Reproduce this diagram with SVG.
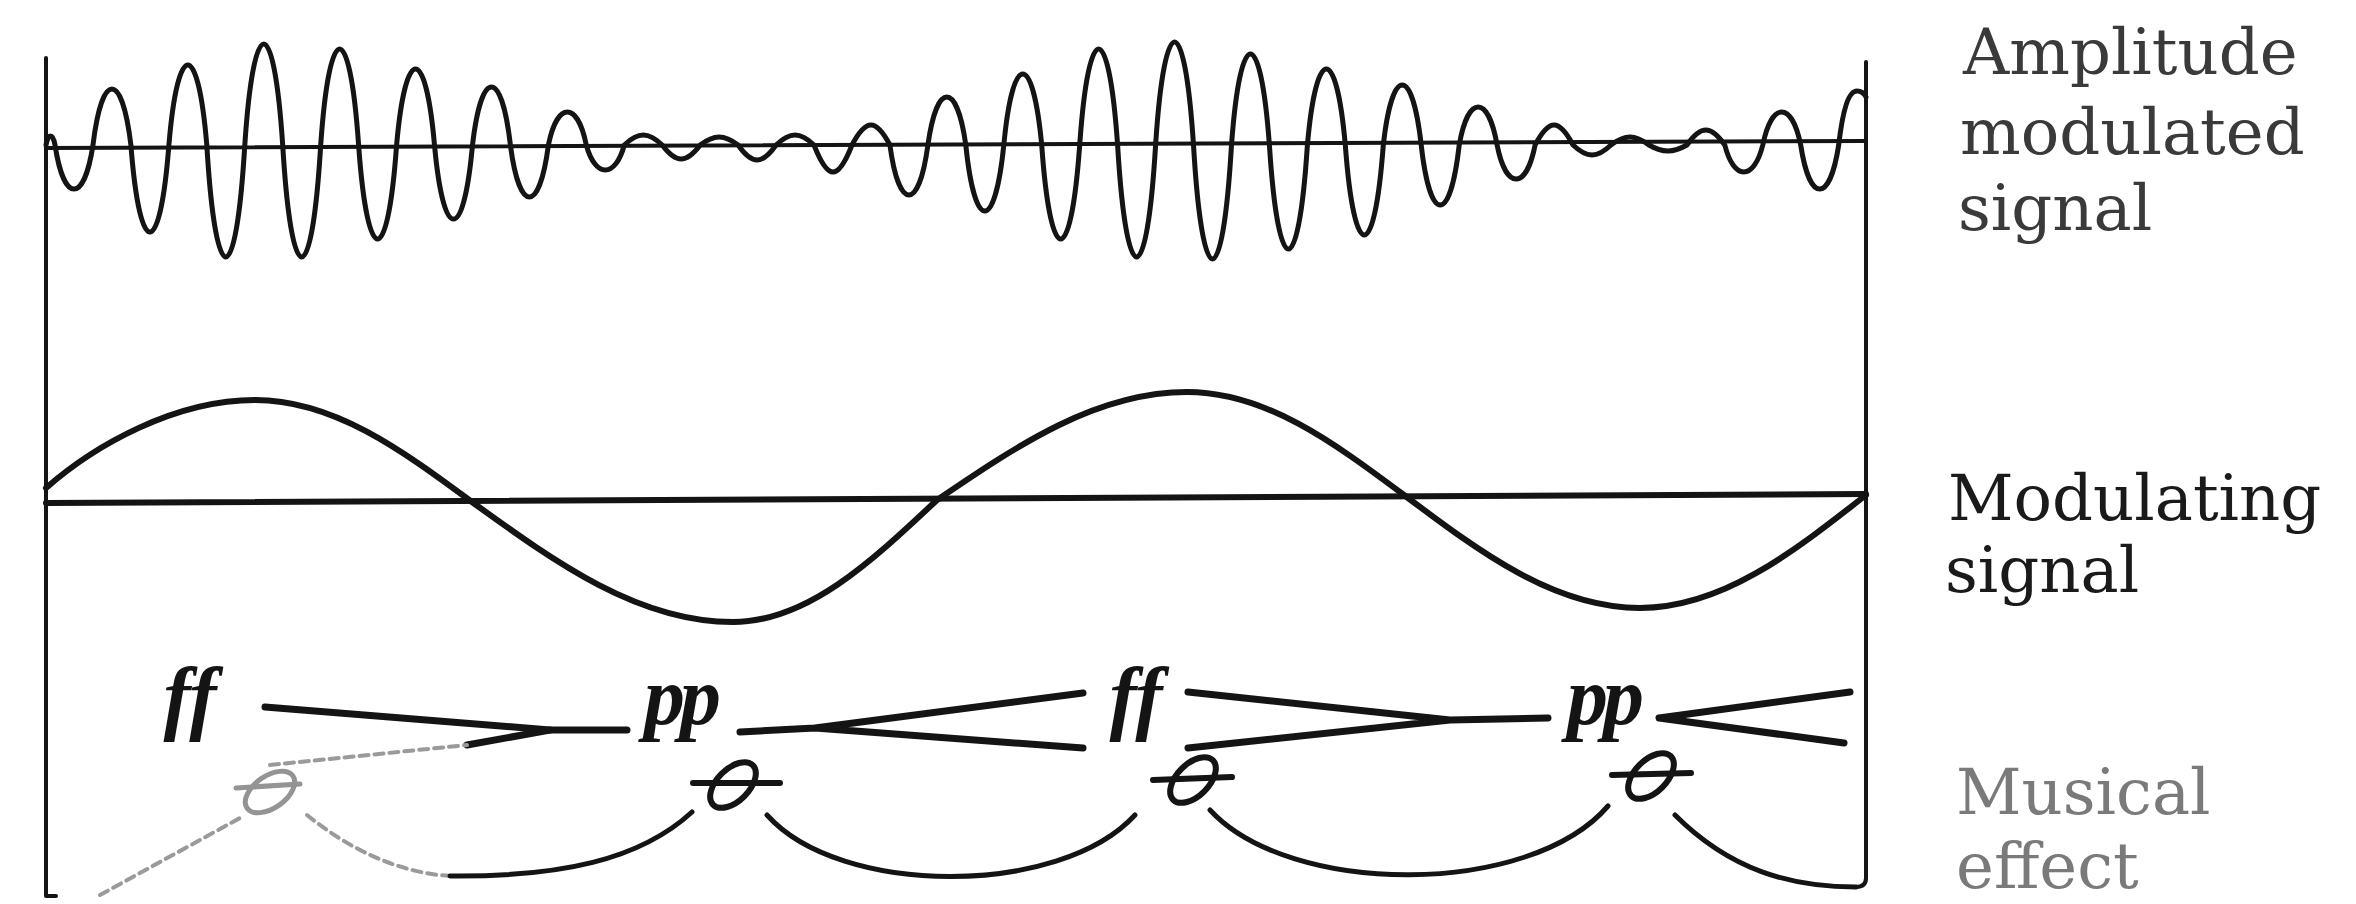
<svg xmlns="http://www.w3.org/2000/svg" width="2356" height="904" viewBox="0 0 2356 904">
<style>
.ink{fill:none;stroke:#141414;stroke-linecap:round;stroke-linejoin:round}
.frame{stroke-width:4}
.carrier{stroke-width:5}
.mod{stroke-width:6}
.hair{stroke-width:7}
.tie{stroke-width:5}
.faint{fill:none;stroke:#9a9a9a;stroke-width:4;stroke-dasharray:9 6;stroke-linecap:round}
.lbl{font-family:"DejaVu Serif","Liberation Serif",serif;font-size:64px}
.dyn{font-family:"Liberation Serif","DejaVu Serif",serif;font-style:italic;font-weight:bold;font-size:82px;fill:#141414;text-anchor:middle}
</style>
<rect width="2356" height="904" fill="#ffffff"/>

<g id="frame">
<path class="ink frame" d="M46,58 L46,896 L56,896"/>
<path class="ink frame" d="M1866,62 L1866,878 Q1866,887 1856,887"/>
</g>

<g id="am-signal">
<path class="ink frame" d="M46,148 L1866,141"/>
<path class="ink carrier" d="M46,145 C48,133 53,133 55,145 C64,203.7 84,203.7 93,145 C102,70.3 121.9,70.3 130.9,145 C139.9,261 159.9,261 168.9,145 C177.9,38.3 197.8,38.3 206.8,145 C215.8,294.3 235.8,294.3 244.8,145 C253.8,10.3 273.7,10.3 282.7,145 C291.7,294.3 311.7,294.3 320.7,145 C329.7,17 349.6,17 358.6,145 C367.6,270.3 387.6,270.3 396.6,145 C405.6,43.7 425.5,43.7 434.5,145 C443.5,243.7 463.5,243.7 472.5,145 C481.5,67.7 501.4,67.7 510.4,145 C519.4,214.3 539.4,214.3 548.4,145 C557.4,101 577.3,101 586.3,145 C595.3,178.3 615.3,178.3 624.3,145 C638.3,131.7 648.2,131.7 662.2,145 C676.2,163.7 686.2,163.7 700.2,145 C714.2,134.3 724.1,134.3 738.1,145 C752.1,165 762.1,165 776.1,145 C790.1,131.7 800,131.7 814,145 C828,181 838,181 852,145 C866,118.3 875.9,118.3 889.9,145 C898.9,211.7 918.9,211.7 927.9,145 C936.9,81 956.8,81 965.8,145 C974.8,233 994.8,233 1003.8,145 C1012.8,50.3 1032.7,50.3 1041.7,145 C1050.7,270.3 1070.7,270.3 1079.7,145 C1088.7,17 1108.6,17 1117.6,145 C1126.6,294.3 1146.6,294.3 1155.6,145 C1164.6,7.7 1184.5,7.7 1193.5,145 C1202.5,297 1222.5,297 1231.5,145 C1240.5,23.7 1260.4,23.7 1269.4,145 C1278.4,283.7 1298.4,283.7 1307.4,145 C1316.4,43.7 1336.3,43.7 1345.3,145 C1354.3,265 1374.3,265 1383.3,145 C1392.3,65 1412.2,65 1421.2,145 C1430.2,225 1450.2,225 1459.2,145 C1468.2,94.3 1488.1,94.3 1497.1,145 C1506.1,190.3 1526.1,190.3 1535.1,145 C1549.1,118.3 1559,118.3 1573,145 C1587,158.3 1597,158.3 1611,145 C1625,134.3 1634.9,134.3 1648.9,145 C1662.9,153 1672.9,153 1686.9,145 C1700.9,125 1710.8,125 1724.8,145 C1733.8,181 1753.8,181 1762.8,145 C1771.8,101 1791.7,101 1800.7,145 C1809.7,203.7 1829.7,203.7 1838.7,145 C1843,108 1849,91 1857,91 C1861,91 1864,93 1866,97"/>
</g>

<g id="modulating-signal">
<path class="ink mod" d="M46,503 L1866,494"/>
<path class="ink mod" d="M46,488 C95,445 175,400 255,400 C333.6,400 401.1,449.7 472,502 C557.2,563.5 638.5,622 733,622 C806.8,622 870.4,562.6 937,500 C1018.6,444.6 1096.5,392 1187,392 C1265.6,392 1333.1,442.2 1404,495 C1481.1,552.9 1554.6,608 1640,608 C1721.8,608 1792.2,552.9 1866,495"/>
</g>

<g id="musical-effect">
<text class="dyn" x="190" y="724">ff</text>
<text class="dyn" x="680" y="724" letter-spacing="-5">pp</text>
<text class="dyn" x="1136" y="724">ff</text>
<text class="dyn" x="1603" y="724" letter-spacing="-5">pp</text>
</g>

<g id="connectors">
<path class="ink hair" d="M265,707 L550,730 L627,730"/>
<path class="ink hair" d="M467,745 L550,730"/>
<path class="faint" d="M270,765 L467,745"/>
<path class="ink hair" d="M1083,693 L815,728 L1083,748 M815,728 L740,732"/>
<path class="ink hair" d="M1188,692 L1450,720 L1188,748 M1450,720 L1548,718"/>
<path class="ink hair" d="M1850,692 L1659,718 L1844,743"/>
<path class="faint" d="M100,895 L240,818"/>
<path class="faint" d="M307,815 C350,850 400,873 450,876"/>
<path class="ink tie" d="M450,876 C560,877 640,860 692,812"/>
<path class="ink tie" d="M767,815 C840,897 1060,897 1135,815"/>
<path class="ink tie" d="M1210,810 C1290,897 1530,897 1608,806"/>
<path class="ink tie" d="M1675,815 C1730,870 1790,887 1856,887"/>
</g>

<g id="notes">
<g id="note1" opacity="0.45">
<ellipse cx="270" cy="792" rx="28" ry="16" transform="rotate(-35 270 792)" class="ink tie"/>
<path class="ink tie" d="M236,788 L300,784"/>
</g>
<g id="note2">
<ellipse cx="733" cy="785" rx="28" ry="16" transform="rotate(-45 733 785)" class="ink" stroke-width="6"/>
<path class="ink" stroke-width="6" d="M693,783 L780,783"/>
</g>
<g id="note3">
<ellipse cx="1193" cy="780" rx="28" ry="16" transform="rotate(-45 1193 780)" class="ink" stroke-width="6"/>
<path class="ink" stroke-width="6" d="M1153,780 L1232,777"/>
</g>
<g id="note4">
<ellipse cx="1651" cy="776" rx="28" ry="16" transform="rotate(-45 1651 776)" class="ink" stroke-width="6"/>
<path class="ink" stroke-width="6" d="M1612,775 L1691,773"/>
</g>
</g>

<g id="labels">
<text class="lbl" fill="#3a3a3a" x="1963" y="74">Amplitude</text>
<text class="lbl" fill="#3a3a3a" x="1960" y="154">modulated</text>
<text class="lbl" fill="#3a3a3a" x="1958" y="230">signal</text>
<text class="lbl" fill="#1a1a1a" x="1948" y="520">Modulating</text>
<text class="lbl" fill="#1a1a1a" x="1945" y="592">signal</text>
<text class="lbl" fill="#7a7a7a" x="1956" y="814" font-size="62">Musical</text>
<text class="lbl" fill="#7a7a7a" x="1956" y="888" font-size="62">effect</text>
</g>
</svg>
